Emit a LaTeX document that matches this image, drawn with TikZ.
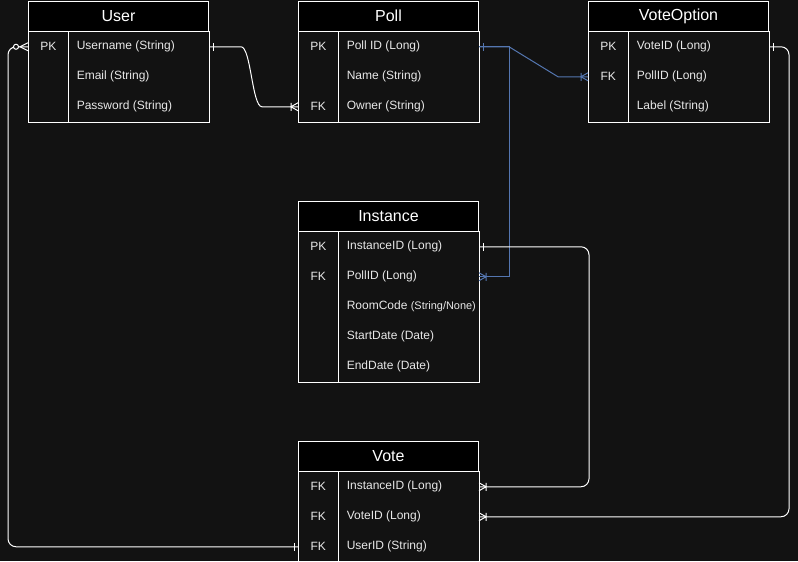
\documentclass[tikz,border=0pt]{standalone}
\usepackage{fontspec}
\setmainfont{Liberation Sans}
\usepackage{xcolor}
\usetikzlibrary{calc,positioning,decorations.markings}
\definecolor{canvas}{RGB}{18,18,18}
\definecolor{ink}{RGB}{232,232,232}
\definecolor{fklink}{RGB}{84,118,176}

\begin{document}
\begin{tikzpicture}[
  x=0.75pt, y=-0.75pt,
  font=\fontsize{9}{11}\selectfont,
  entity/.style={draw=white, line width=0.75pt, fill=black, text=white,
                 anchor=north west, minimum width=135pt, minimum height=22.5pt,
                 inner sep=0pt, font=\fontsize{12}{14}\selectfont},
  keycell/.style={anchor=north west, minimum width=30pt, minimum height=22.5pt,
                  inner sep=0pt, text=ink},
  fieldcell/.style={inner sep=0pt, text=ink},
  frame/.style={draw=white, line width=0.75pt},
  rel/.style={white, line width=0.75pt, rounded corners=6pt},
  fk/.style={fklink, line width=0.75pt},
  one start/.style={postaction={decorate, decoration={markings,
      mark=at position 0 with {\draw[sharp corners] (3pt,-3pt) -- (3pt,3pt);}}}},
  one end/.style={postaction={decorate, decoration={markings,
      mark=at position 1 with {\draw[sharp corners] (-3pt,-3pt) -- (-3pt,3pt);}}}},
  many end/.style={postaction={decorate, decoration={markings,
      mark=at position 1 with {\draw[sharp corners] (0pt,-3pt) -- (-5.25pt,0pt) -- (0pt,3pt)
        (-5.25pt,-3pt) -- (-5.25pt,3pt);}}}},
  zmany start/.style={postaction={decorate, decoration={markings,
      mark=at position 0 with {\draw[sharp corners] (0pt,-3pt) -- (6pt,0pt) -- (0pt,3pt);
        \draw[fill=canvas] (9pt,0pt) circle (1.9pt);}}}}
]
  \fill[canvas] (0,0) rectangle (798,561);
  \useasboundingbox (0,0) rectangle (798,561);

  % User table
  \node[entity] (user) at (28,0.5) {User};
  \foreach \k/\f [count=\i] in {PK/Username (String), /Email (String), /Password (String)} {
    \node[keycell] (user-k\i) at ([yshift={-(\i-1)*22.5pt}]user.south west) {\k};
    \node[fieldcell, right=6pt of user-k\i] (user-f\i) {\f};
  }
  \draw[frame] (user.south west) rectangle (user-k3.south -| user.east);
  \draw[frame] (user-k1.north east) -- (user-k3.south east);

  % Poll table
  \node[entity] (poll) at (298,0.5) {Poll};
  \foreach \k/\f [count=\i] in {PK/Poll ID (Long), /Name (String), FK/Owner (String)} {
    \node[keycell] (poll-k\i) at ([yshift={-(\i-1)*22.5pt}]poll.south west) {\k};
    \node[fieldcell, right=6pt of poll-k\i] (poll-f\i) {\f};
  }
  \draw[frame] (poll.south west) rectangle (poll-k3.south -| poll.east);
  \draw[frame] (poll-k1.north east) -- (poll-k3.south east);

  % VoteOption table
  \node[entity] (option) at (588,0.5) {VoteOption};
  \foreach \k/\f [count=\i] in {PK/VoteID (Long), FK/PollID (Long), /Label (String)} {
    \node[keycell] (option-k\i) at ([yshift={-(\i-1)*22.5pt}]option.south west) {\k};
    \node[fieldcell, right=6pt of option-k\i] (option-f\i) {\f};
  }
  \draw[frame] (option.south west) rectangle (option-k3.south -| option.east);
  \draw[frame] (option-k1.north east) -- (option-k3.south east);

  % Instance table
  \node[entity] (inst) at (298,200.5) {Instance};
  \foreach \k/\f [count=\i] in {PK/InstanceID (Long), FK/PollID (Long),
      /RoomCode {\fontsize{8.2}{10}\selectfont(String/None)}, /StartDate (Date), /EndDate (Date)} {
    \node[keycell] (inst-k\i) at ([yshift={-(\i-1)*22.5pt}]inst.south west) {\k};
    \node[fieldcell, right=6pt of inst-k\i] (inst-f\i) {\f};
  }
  \draw[frame] (inst.south west) rectangle (inst-k5.south -| inst.east);
  \draw[frame] (inst-k1.north east) -- (inst-k5.south east);

  % Vote table
  \node[entity] (vote) at (298,440.5) {Vote};
  \foreach \k/\f [count=\i] in {FK/InstanceID (Long), FK/VoteID (Long), FK/UserID (String)} {
    \node[keycell] (vote-k\i) at ([yshift={-(\i-1)*22.5pt}]vote.south west) {\k};
    \node[fieldcell, right=6pt of vote-k\i] (vote-f\i) {\f};
  }
  \draw[frame] (vote.south west) rectangle (vote-k3.south -| vote.east);
  \draw[frame] (vote-k1.north east) -- (vote-k3.south east);

  % Relationships
  \draw[rel, one start, many end] (user-k1 -| user.east) -- ++(24,0)
    .. controls +(18,0) and +(-18,0) .. ($(poll-k3.west)+(-28,0)$) -- (poll-k3.west);
  \draw[fk, one start, many end] (poll-k1 -| poll.east) -- ++(30,0)
    -- ($(option-k2.west)+(-30,0)$) -- (option-k2.west);
  \draw[fk, one start, many end] (poll-k1 -| poll.east) -- ++(30,0) |- (inst-k2 -| inst.east);
  \draw[rel, one start, many end] (inst-k1 -| inst.east) -- ++(110,0) |- (vote-k1 -| vote.east);
  \draw[rel, one start, many end] (option-k1 -| option.east) -- ++(20,0) |- (vote-k2 -| vote.east);
  \draw[rel, zmany start, one end] (user-k1.west) -- ++(-20,0) |- (vote-k3.west);
\end{tikzpicture}
\end{document}
